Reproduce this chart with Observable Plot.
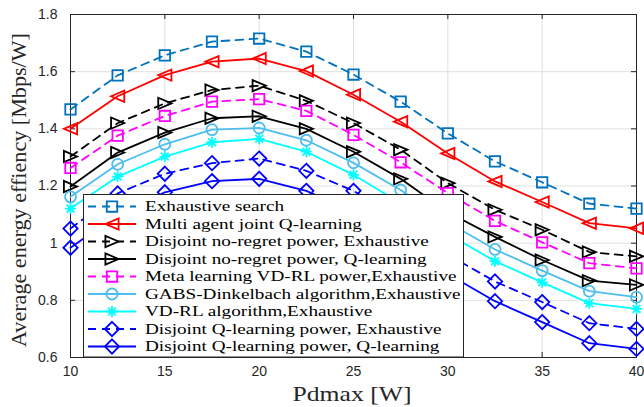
<!DOCTYPE html>
<html><head><meta charset="utf-8">
<script src="https://cdn.jsdelivr.net/npm/d3@7"></script>
<script src="https://cdn.jsdelivr.net/npm/@observablehq/plot@0.6"></script>
<style>
body{margin:0;background:#fff;}
#wrap{position:relative;width:644px;height:407px;}
</style></head><body><div id="wrap"></div>
<script>
const pdmax = [10,12.5,15,17.5,20,22.5,25,27.5,30,32.5,35,37.5,40];
const exhaustive  = [1.468,1.587,1.657,1.705,1.716,1.670,1.590,1.495,1.384,1.286,1.213,1.138,1.121];
const multiAgentQ = [1.400,1.514,1.588,1.635,1.646,1.602,1.519,1.425,1.314,1.216,1.144,1.070,1.052];
const noRegretExh = [1.303,1.420,1.489,1.536,1.551,1.498,1.420,1.327,1.210,1.117,1.047,0.969,0.954];
const noRegretQ   = [1.198,1.317,1.387,1.437,1.444,1.400,1.320,1.225,1.108,1.022,0.941,0.869,0.854];
const metaVDRL    = [1.263,1.376,1.445,1.495,1.504,1.463,1.379,1.283,1.175,1.078,1.003,0.930,0.912];
const gabs        = [1.162,1.276,1.346,1.397,1.403,1.360,1.281,1.186,1.073,0.978,0.904,0.832,0.811];
const vdrl        = [1.121,1.233,1.303,1.353,1.365,1.320,1.239,1.140,1.032,0.937,0.863,0.790,0.770];
const qlExh       = [1.051,1.174,1.243,1.280,1.296,1.253,1.183,1.080,0.960,0.866,0.794,0.720,0.700];
const qlQ         = [0.984,1.100,1.178,1.217,1.225,1.183,1.110,1.000,0.892,0.797,0.724,0.650,0.630];

const seriesNames = [
  "Exhaustive search",
  "Multi agent joint Q-learning",
  "Disjoint no-regret power, Exhaustive",
  "Disjoint no-regret power, Q-learning",
  "Meta learning VD-RL power,Exhaustive",
  "GABS-Dinkelbach algorithm,Exhaustive",
  "VD-RL algorithm,Exhaustive",
  "Disjoint Q-learning power, Exhaustive",
  "Disjoint Q-learning power, Q-learning"
];
const seriesValues = [exhaustive, multiAgentQ, noRegretExh, noRegretQ, metaVDRL, gabs, vdrl, qlExh, qlQ];
const seriesColors = ["#0072BD","#FF0000","#000000","#000000","#FF00FF","#4DBEEE","#00FFFF","#0000FF","#0000FF"];
const seriesDashed = [true,false,true,false,true,false,false,true,false];
const seriesSymbols = ["square","triLeft","triRight","triRight","square","circle","asterisk","diamond","diamond"];
const xTicks = [10,15,20,25,30,35,40];
const yTicks = [0.6,0.8,1.0,1.2,1.4,1.6,1.8];
const xLabel = "Pdmax [W]";
const yLabel = "Average energy effiency [Mbps/W]";

const sym = {
  square: {draw(c,s){const h=Math.sqrt(s/Math.PI)*0.95; c.rect(-h,-h,2*h,2*h);}},
  circle: {draw(c,s){const h=Math.sqrt(s/Math.PI); c.moveTo(h,0); c.arc(0,0,h,0,2*Math.PI);}},
  diamond: {draw(c,s){const h=Math.sqrt(s/Math.PI)*1.3; c.moveTo(0,-h);c.lineTo(h,0);c.lineTo(0,h);c.lineTo(-h,0);c.closePath();}},
  triLeft: {draw(c,s){const h=Math.sqrt(s/Math.PI)*1.2; c.moveTo(-h,0);c.lineTo(h,-h*0.85);c.lineTo(h,h*0.85);c.closePath();}},
  triRight: {draw(c,s){const h=Math.sqrt(s/Math.PI)*1.2; c.moveTo(h,0);c.lineTo(-h,-h*0.85);c.lineTo(-h,h*0.85);c.closePath();}},
  asterisk: {draw(c,s){const h=Math.sqrt(s/Math.PI); const d=h*0.707;
    c.moveTo(-h,0);c.lineTo(h,0);c.moveTo(0,-h);c.lineTo(0,h);
    c.moveTo(-d,-d);c.lineTo(d,d);c.moveTo(-d,d);c.lineTo(d,-d);}}
};

const W=644,H=407,mL=70,mR=8,mT=14,mB=50;
const plotW=W-mL-mR, plotH=H-mT-mB;
const tickLen=5;
const dash="8,6";
const lw=1.8, mr=5.5;

const rows = seriesNames.flatMap((name,k)=>pdmax.map((x,i)=>({x, y: seriesValues[k][i], k})));

const marks = [
  Plot.gridX(xTicks,{x:d=>d, stroke:"#e0e0e0", strokeOpacity:1, strokeWidth:1}),
  Plot.gridY(yTicks,{y:d=>d, stroke:"#e0e0e0", strokeOpacity:1, strokeWidth:1}),
  Plot.tickX(xTicks,{x:d=>d, insetBottom:plotH-tickLen, stroke:"#262626"}),
  Plot.tickX(xTicks,{x:d=>d, insetTop:plotH-tickLen, stroke:"#262626"}),
  Plot.tickY(yTicks,{y:d=>d, insetRight:plotW-tickLen, stroke:"#262626"}),
  Plot.tickY(yTicks,{y:d=>d, insetLeft:plotW-tickLen, stroke:"#262626"}),
  Plot.frame({stroke:"#262626", strokeWidth:1}),
  Plot.axisX(xTicks,{tickSize:0, tickPadding:9, tickFormat:d=>String(d), label:null, color:"#262626", fontSize:14}),
  Plot.axisY(yTicks,{tickSize:0, tickPadding:13, tickFormat:d=>String(+d.toFixed(1)), label:null, color:"#262626", fontSize:14})
];
seriesNames.forEach((name,k)=>{
  const data = rows.filter(r=>r.k===k);
  marks.push(Plot.line(data,{x:"x", y:"y", stroke:seriesColors[k], strokeWidth:lw,
    strokeDasharray: seriesDashed[k] ? dash : null}));
  marks.push(Plot.dot(data,{x:"x", y:"y", symbol:sym[seriesSymbols[k]], r:mr, stroke:seriesColors[k],
    strokeWidth:lw, fill:"none"}));
});

const chart = Plot.plot({
  width:W, height:H, marginLeft:mL, marginRight:mR, marginTop:mT, marginBottom:mB,
  x:{domain:[10,40]}, y:{domain:[0.6,1.8]},
  style:{fontFamily:"'Liberation Sans', Arial, sans-serif", fontSize:"14px", background:"#fff", overflow:"visible"},
  marks
});
document.getElementById("wrap").appendChild(chart);

const svg = d3.select(chart);
const serif = "'Liberation Serif', 'Times New Roman', serif";
// axis titles
svg.append("text").attr("x",352).attr("y",401).attr("text-anchor","middle")
  .attr("font-family",serif).attr("font-size",21)
  .attr("fill","#262626").attr("textLength",119).attr("lengthAdjust","spacingAndGlyphs").text(xLabel);
svg.append("text").attr("transform","translate(26,190) rotate(-90)").attr("text-anchor","middle")
  .attr("font-family",serif).attr("font-size",21)
  .attr("fill","#262626").attr("textLength",314).attr("lengthAdjust","spacingAndGlyphs").text(yLabel);

// legend
const lg = svg.append("g").attr("text-anchor","start");
const lx0=83.5, ly0=194.5, lx1=463.5, ly1=357;
lg.append("rect").attr("x",lx0).attr("y",ly0).attr("width",lx1-lx0).attr("height",ly1-ly0)
  .attr("fill","#fff").attr("stroke","#262626").attr("stroke-width",1);
seriesNames.forEach((name,k)=>{
  const cy = 206.5 + k*17.5;
  lg.append("line").attr("x1",88).attr("x2",136).attr("y1",cy).attr("y2",cy)
    .attr("stroke",seriesColors[k]).attr("stroke-width",lw)
    .attr("stroke-dasharray", seriesDashed[k] ? dash : null);
  lg.append("path").attr("transform",`translate(112,${cy})`)
    .attr("d", d3.symbol(sym[seriesSymbols[k]], Math.PI*mr*mr)())
    .attr("fill","none").attr("stroke",seriesColors[k]).attr("stroke-width",lw);
  lg.append("text").attr("text-anchor","start").attr("transform",`translate(145,${cy+4.8}) scale(1.28,1)`)
    .attr("font-family",serif).attr("font-size",15)
    .attr("fill","#000").text(name);
});
</script></body></html>
